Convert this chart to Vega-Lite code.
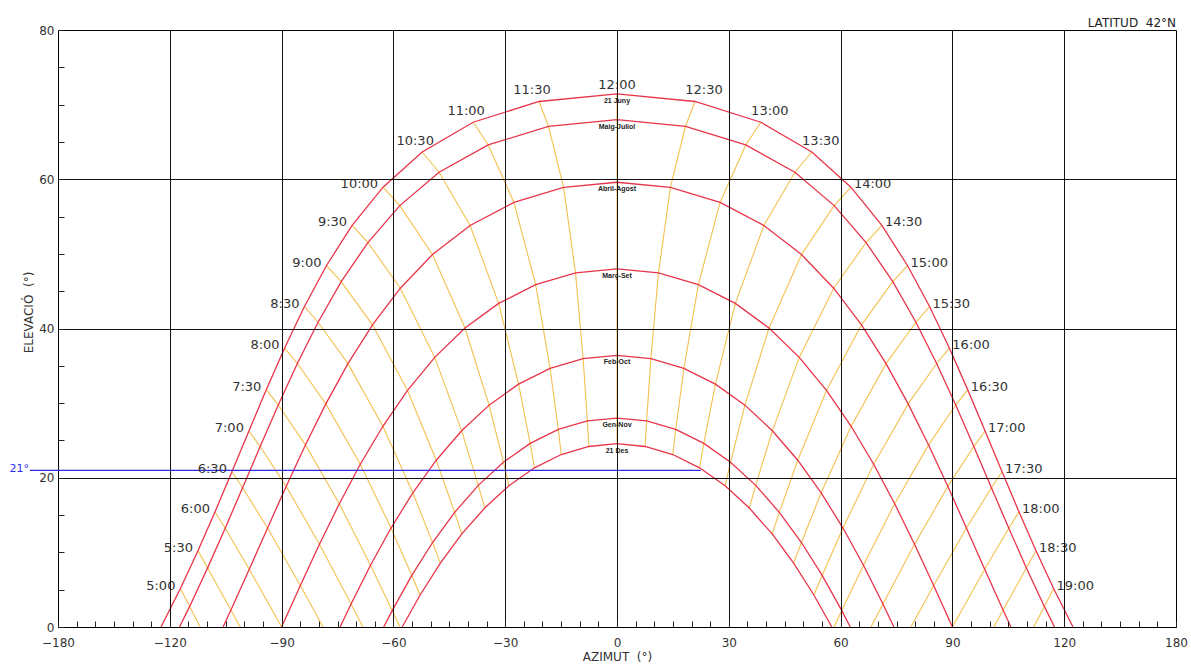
{
  "$schema": "https://vega.github.io/schema/vega-lite/v6.json",
  "width": 1118,
  "height": 597,
  "autosize": "none",
  "padding": {"left": 58, "top": 30, "right": 15, "bottom": 37},
  "background": "white",
  "config": {
    "view": {"stroke": "black", "strokeWidth": 1},
    "font": "DejaVu Sans"
  },
  "title": {"text": "LATITUD\u00a0\u00a042°N", "anchor": "end", "frame": "group", "fontSize": 12, "fontWeight": "normal", "font": "DejaVu Sans", "color": "#222", "offset": -6},
  "datasets": {
    "path": [
      {"m":"21 Juny","az":-122.36,"el":0},{"m":"21 Juny","az":-117.15,"el":5.15},{"m":"21 Juny","az":-112.44,"el":10.21},{"m":"21 Juny","az":-107.86,"el":15.44},{"m":"21 Juny","az":-103.33,"el":20.80},{"m":"21 Juny","az":-98.77,"el":26.27},{"m":"21 Juny","az":-94.09,"el":31.81},{"m":"21 Juny","az":-89.18,"el":37.38},{"m":"21 Juny","az":-83.87,"el":42.94},{"m":"21 Juny","az":-77.95,"el":48.44},{"m":"21 Juny","az":-71.08,"el":53.81},{"m":"21 Juny","az":-62.77,"el":58.94},{"m":"21 Juny","az":-52.28,"el":63.65},{"m":"21 Juny","az":-38.60,"el":67.64},{"m":"21 Juny","az":-20.93,"el":70.42},{"m":"21 Juny","az":0,"el":71.44},{"m":"21 Juny","az":20.93,"el":70.42},{"m":"21 Juny","az":38.60,"el":67.64},{"m":"21 Juny","az":52.28,"el":63.65},{"m":"21 Juny","az":62.77,"el":58.94},{"m":"21 Juny","az":71.08,"el":53.81},{"m":"21 Juny","az":77.95,"el":48.44},{"m":"21 Juny","az":83.87,"el":42.94},{"m":"21 Juny","az":89.18,"el":37.38},{"m":"21 Juny","az":94.09,"el":31.81},{"m":"21 Juny","az":98.77,"el":26.27},{"m":"21 Juny","az":103.33,"el":20.80},{"m":"21 Juny","az":107.86,"el":15.44},{"m":"21 Juny","az":112.44,"el":10.21},{"m":"21 Juny","az":117.15,"el":5.15},{"m":"21 Juny","az":122.36,"el":0},
      {"m":"Maig-Juliol","az":-117.40,"el":0},{"m":"Maig-Juliol","az":-114.67,"el":2.76},{"m":"Maig-Juliol","az":-109.85,"el":7.92},{"m":"Maig-Juliol","az":-105.14,"el":13.23},{"m":"Maig-Juliol","az":-100.47,"el":18.66},{"m":"Maig-Juliol","az":-95.75,"el":24.18},{"m":"Maig-Juliol","az":-90.89,"el":29.74},{"m":"Maig-Juliol","az":-85.77,"el":35.31},{"m":"Maig-Juliol","az":-80.21,"el":40.84},{"m":"Maig-Juliol","az":-74.01,"el":46.27},{"m":"Maig-Juliol","az":-66.84,"el":51.52},{"m":"Maig-Juliol","az":-58.28,"el":56.47},{"m":"Maig-Juliol","az":-47.74,"el":60.94},{"m":"Maig-Juliol","az":-34.55,"el":64.60},{"m":"Maig-Juliol","az":-18.38,"el":67.10},{"m":"Maig-Juliol","az":0,"el":68.0},{"m":"Maig-Juliol","az":18.38,"el":67.10},{"m":"Maig-Juliol","az":34.55,"el":64.60},{"m":"Maig-Juliol","az":47.74,"el":60.94},{"m":"Maig-Juliol","az":58.28,"el":56.47},{"m":"Maig-Juliol","az":66.84,"el":51.52},{"m":"Maig-Juliol","az":74.01,"el":46.27},{"m":"Maig-Juliol","az":80.21,"el":40.84},{"m":"Maig-Juliol","az":85.77,"el":35.31},{"m":"Maig-Juliol","az":90.89,"el":29.74},{"m":"Maig-Juliol","az":95.75,"el":24.18},{"m":"Maig-Juliol","az":100.47,"el":18.66},{"m":"Maig-Juliol","az":105.14,"el":13.23},{"m":"Maig-Juliol","az":109.85,"el":7.92},{"m":"Maig-Juliol","az":114.67,"el":2.76},{"m":"Maig-Juliol","az":117.40,"el":0},
      {"m":"Abril-Agost","az":-105.70,"el":0},{"m":"Abril-Agost","az":-103.60,"el":2.27},{"m":"Abril-Agost","az":-98.67,"el":7.73},{"m":"Abril-Agost","az":-93.76,"el":13.27},{"m":"Abril-Agost","az":-88.78,"el":18.84},{"m":"Abril-Agost","az":-83.61,"el":24.40},{"m":"Abril-Agost","az":-78.13,"el":29.90},{"m":"Abril-Agost","az":-72.20,"el":35.29},{"m":"Abril-Agost","az":-65.61,"el":40.49},{"m":"Abril-Agost","az":-58.14,"el":45.40},{"m":"Abril-Agost","az":-49.51,"el":49.91},{"m":"Abril-Agost","az":-39.41,"el":53.81},{"m":"Abril-Agost","az":-27.66,"el":56.89},{"m":"Abril-Agost","az":-14.33,"el":58.90},{"m":"Abril-Agost","az":0,"el":59.6},{"m":"Abril-Agost","az":14.33,"el":58.90},{"m":"Abril-Agost","az":27.66,"el":56.89},{"m":"Abril-Agost","az":39.41,"el":53.81},{"m":"Abril-Agost","az":49.51,"el":49.91},{"m":"Abril-Agost","az":58.14,"el":45.40},{"m":"Abril-Agost","az":65.61,"el":40.49},{"m":"Abril-Agost","az":72.20,"el":35.29},{"m":"Abril-Agost","az":78.13,"el":29.90},{"m":"Abril-Agost","az":83.61,"el":24.40},{"m":"Abril-Agost","az":88.78,"el":18.84},{"m":"Abril-Agost","az":93.76,"el":13.27},{"m":"Abril-Agost","az":98.67,"el":7.73},{"m":"Abril-Agost","az":103.60,"el":2.27},{"m":"Abril-Agost","az":105.70,"el":0},
      {"m":"Març-Set","az":-90,"el":0},{"m":"Març-Set","az":-84.97,"el":5.57},{"m":"Març-Set","az":-79.84,"el":11.09},{"m":"Març-Set","az":-74.51,"el":16.52},{"m":"Març-Set","az":-68.88,"el":21.81},{"m":"Març-Set","az":-62.83,"el":26.90},{"m":"Març-Set","az":-56.21,"el":31.70},{"m":"Març-Set","az":-48.90,"el":36.13},{"m":"Març-Set","az":-40.79,"el":40.06},{"m":"Març-Set","az":-31.76,"el":43.36},{"m":"Març-Set","az":-21.83,"el":45.87},{"m":"Març-Set","az":-11.13,"el":47.46},{"m":"Març-Set","az":0,"el":48.0},{"m":"Març-Set","az":11.13,"el":47.46},{"m":"Març-Set","az":21.83,"el":45.87},{"m":"Març-Set","az":31.76,"el":43.36},{"m":"Març-Set","az":40.79,"el":40.06},{"m":"Març-Set","az":48.90,"el":36.13},{"m":"Març-Set","az":56.21,"el":31.70},{"m":"Març-Set","az":62.83,"el":26.90},{"m":"Març-Set","az":68.88,"el":21.81},{"m":"Març-Set","az":74.51,"el":16.52},{"m":"Març-Set","az":79.84,"el":11.09},{"m":"Març-Set","az":84.97,"el":5.57},{"m":"Març-Set","az":90,"el":0},
      {"m":"Feb-Oct","az":-74.30,"el":0},{"m":"Feb-Oct","az":-71.36,"el":3.09},{"m":"Feb-Oct","az":-66.14,"el":8.28},{"m":"Feb-Oct","az":-60.64,"el":13.26},{"m":"Feb-Oct","az":-54.79,"el":17.98},{"m":"Feb-Oct","az":-48.50,"el":22.35},{"m":"Feb-Oct","az":-41.69,"el":26.29},{"m":"Feb-Oct","az":-34.33,"el":29.73},{"m":"Feb-Oct","az":-26.41,"el":32.55},{"m":"Feb-Oct","az":-17.95,"el":34.65},{"m":"Feb-Oct","az":-9.09,"el":35.96},{"m":"Feb-Oct","az":0,"el":36.4},{"m":"Feb-Oct","az":9.09,"el":35.96},{"m":"Feb-Oct","az":17.95,"el":34.65},{"m":"Feb-Oct","az":26.41,"el":32.55},{"m":"Feb-Oct","az":34.33,"el":29.73},{"m":"Feb-Oct","az":41.69,"el":26.29},{"m":"Feb-Oct","az":48.50,"el":22.35},{"m":"Feb-Oct","az":54.79,"el":17.98},{"m":"Feb-Oct","az":60.64,"el":13.26},{"m":"Feb-Oct","az":66.14,"el":8.28},{"m":"Feb-Oct","az":71.36,"el":3.09},{"m":"Feb-Oct","az":74.30,"el":0},
      {"m":"Gen-Nov","az":-62.60,"el":0},{"m":"Gen-Nov","az":-60.32,"el":2.20},{"m":"Gen-Nov","az":-55.06,"el":6.91},{"m":"Gen-Nov","az":-49.49,"el":11.32},{"m":"Gen-Nov","az":-43.56,"el":15.36},{"m":"Gen-Nov","az":-37.22,"el":18.98},{"m":"Gen-Nov","az":-30.47,"el":22.08},{"m":"Gen-Nov","az":-23.30,"el":24.60},{"m":"Gen-Nov","az":-15.76,"el":26.47},{"m":"Gen-Nov","az":-7.96,"el":27.61},{"m":"Gen-Nov","az":0,"el":28.0},{"m":"Gen-Nov","az":7.96,"el":27.61},{"m":"Gen-Nov","az":15.76,"el":26.47},{"m":"Gen-Nov","az":23.30,"el":24.60},{"m":"Gen-Nov","az":30.47,"el":22.08},{"m":"Gen-Nov","az":37.22,"el":18.98},{"m":"Gen-Nov","az":43.56,"el":15.36},{"m":"Gen-Nov","az":49.49,"el":11.32},{"m":"Gen-Nov","az":55.06,"el":6.91},{"m":"Gen-Nov","az":60.32,"el":2.20},{"m":"Gen-Nov","az":62.60,"el":0},
      {"m":"21 Des","az":-57.64,"el":0},{"m":"21 Des","az":-52.83,"el":4.29},{"m":"21 Des","az":-47.40,"el":8.56},{"m":"21 Des","az":-41.64,"el":12.47},{"m":"21 Des","az":-35.51,"el":15.95},{"m":"21 Des","az":-29.01,"el":18.93},{"m":"21 Des","az":-22.14,"el":21.33},{"m":"21 Des","az":-14.96,"el":23.11},{"m":"21 Des","az":-7.54,"el":24.19},{"m":"21 Des","az":0,"el":24.56},{"m":"21 Des","az":7.54,"el":24.19},{"m":"21 Des","az":14.96,"el":23.11},{"m":"21 Des","az":22.14,"el":21.33},{"m":"21 Des","az":29.01,"el":18.93},{"m":"21 Des","az":35.51,"el":15.95},{"m":"21 Des","az":41.64,"el":12.47},{"m":"21 Des","az":47.40,"el":8.56},{"m":"21 Des","az":52.83,"el":4.29},{"m":"21 Des","az":57.64,"el":0}
    ],
    "hora": [
      {"t":"5:00","hr":5,"dec":23.44,"az":-117.15,"el":5.15},{"t":"5:00","hr":5,"dec":20,"az":-114.67,"el":2.76},{"t":"5:00","hr":5,"dec":16.04,"az":-111.83,"el":0},
      {"t":"5:30","hr":5.5,"dec":23.44,"az":-112.44,"el":10.21},{"t":"5:30","hr":5.5,"dec":20,"az":-109.85,"el":7.92},{"t":"5:30","hr":5.5,"dec":11.6,"az":-103.60,"el":2.27},{"t":"5:30","hr":5.5,"dec":8.25,"az":-101.13,"el":0},
      {"t":"6:00","hr":6,"dec":23.44,"az":-107.86,"el":15.44},{"t":"6:00","hr":6,"dec":20,"az":-105.14,"el":13.23},{"t":"6:00","hr":6,"dec":11.6,"az":-98.67,"el":7.73},{"t":"6:00","hr":6,"dec":0,"az":-90,"el":0},
      {"t":"6:30","hr":6.5,"dec":23.44,"az":-103.33,"el":20.80},{"t":"6:30","hr":6.5,"dec":20,"az":-100.47,"el":18.66},{"t":"6:30","hr":6.5,"dec":11.6,"az":-93.76,"el":13.27},{"t":"6:30","hr":6.5,"dec":0,"az":-84.97,"el":5.57},{"t":"6:30","hr":6.5,"dec":-8.25,"az":-78.87,"el":0},
      {"t":"7:00","hr":7,"dec":23.44,"az":-98.77,"el":26.27},{"t":"7:00","hr":7,"dec":20,"az":-95.75,"el":24.18},{"t":"7:00","hr":7,"dec":11.6,"az":-88.78,"el":18.84},{"t":"7:00","hr":7,"dec":0,"az":-79.84,"el":11.09},{"t":"7:00","hr":7,"dec":-11.6,"az":-71.36,"el":3.09},{"t":"7:00","hr":7,"dec":-16.04,"az":-68.17,"el":0},
      {"t":"7:30","hr":7.5,"dec":23.44,"az":-94.09,"el":31.81},{"t":"7:30","hr":7.5,"dec":20,"az":-90.89,"el":29.74},{"t":"7:30","hr":7.5,"dec":11.6,"az":-83.61,"el":24.40},{"t":"7:30","hr":7.5,"dec":0,"az":-74.51,"el":16.52},{"t":"7:30","hr":7.5,"dec":-11.6,"az":-66.14,"el":8.28},{"t":"7:30","hr":7.5,"dec":-20,"az":-60.32,"el":2.20},{"t":"7:30","hr":7.5,"dec":-23.03,"az":-58.24,"el":0},
      {"t":"8:00","hr":8,"dec":23.44,"az":-89.18,"el":37.38},{"t":"8:00","hr":8,"dec":20,"az":-85.77,"el":35.31},{"t":"8:00","hr":8,"dec":11.6,"az":-78.13,"el":29.90},{"t":"8:00","hr":8,"dec":0,"az":-68.88,"el":21.81},{"t":"8:00","hr":8,"dec":-11.6,"az":-60.64,"el":13.26},{"t":"8:00","hr":8,"dec":-20,"az":-55.06,"el":6.91},{"t":"8:00","hr":8,"dec":-23.44,"az":-52.83,"el":4.29},
      {"t":"8:30","hr":8.5,"dec":23.44,"az":-83.87,"el":42.94},{"t":"8:30","hr":8.5,"dec":20,"az":-80.21,"el":40.84},{"t":"8:30","hr":8.5,"dec":11.6,"az":-72.20,"el":35.29},{"t":"8:30","hr":8.5,"dec":0,"az":-62.83,"el":26.90},{"t":"8:30","hr":8.5,"dec":-11.6,"az":-54.79,"el":17.98},{"t":"8:30","hr":8.5,"dec":-20,"az":-49.49,"el":11.32},{"t":"8:30","hr":8.5,"dec":-23.44,"az":-47.40,"el":8.56},
      {"t":"9:00","hr":9,"dec":23.44,"az":-77.95,"el":48.44},{"t":"9:00","hr":9,"dec":20,"az":-74.01,"el":46.27},{"t":"9:00","hr":9,"dec":11.6,"az":-65.61,"el":40.49},{"t":"9:00","hr":9,"dec":0,"az":-56.21,"el":31.70},{"t":"9:00","hr":9,"dec":-11.6,"az":-48.50,"el":22.35},{"t":"9:00","hr":9,"dec":-20,"az":-43.56,"el":15.36},{"t":"9:00","hr":9,"dec":-23.44,"az":-41.64,"el":12.47},
      {"t":"9:30","hr":9.5,"dec":23.44,"az":-71.08,"el":53.81},{"t":"9:30","hr":9.5,"dec":20,"az":-66.84,"el":51.52},{"t":"9:30","hr":9.5,"dec":11.6,"az":-58.14,"el":45.40},{"t":"9:30","hr":9.5,"dec":0,"az":-48.90,"el":36.13},{"t":"9:30","hr":9.5,"dec":-11.6,"az":-41.69,"el":26.29},{"t":"9:30","hr":9.5,"dec":-20,"az":-37.22,"el":18.98},{"t":"9:30","hr":9.5,"dec":-23.44,"az":-35.51,"el":15.95},
      {"t":"10:00","hr":10,"dec":23.44,"az":-62.77,"el":58.94},{"t":"10:00","hr":10,"dec":20,"az":-58.28,"el":56.47},{"t":"10:00","hr":10,"dec":11.6,"az":-49.51,"el":49.91},{"t":"10:00","hr":10,"dec":0,"az":-40.79,"el":40.06},{"t":"10:00","hr":10,"dec":-11.6,"az":-34.33,"el":29.73},{"t":"10:00","hr":10,"dec":-20,"az":-30.47,"el":22.08},{"t":"10:00","hr":10,"dec":-23.44,"az":-29.01,"el":18.93},
      {"t":"10:30","hr":10.5,"dec":23.44,"az":-52.28,"el":63.65},{"t":"10:30","hr":10.5,"dec":20,"az":-47.74,"el":60.94},{"t":"10:30","hr":10.5,"dec":11.6,"az":-39.41,"el":53.81},{"t":"10:30","hr":10.5,"dec":0,"az":-31.76,"el":43.36},{"t":"10:30","hr":10.5,"dec":-11.6,"az":-26.41,"el":32.55},{"t":"10:30","hr":10.5,"dec":-20,"az":-23.30,"el":24.60},{"t":"10:30","hr":10.5,"dec":-23.44,"az":-22.14,"el":21.33},
      {"t":"11:00","hr":11,"dec":23.44,"az":-38.60,"el":67.64},{"t":"11:00","hr":11,"dec":20,"az":-34.55,"el":64.60},{"t":"11:00","hr":11,"dec":11.6,"az":-27.66,"el":56.89},{"t":"11:00","hr":11,"dec":0,"az":-21.83,"el":45.87},{"t":"11:00","hr":11,"dec":-11.6,"az":-17.95,"el":34.65},{"t":"11:00","hr":11,"dec":-20,"az":-15.76,"el":26.47},{"t":"11:00","hr":11,"dec":-23.44,"az":-14.96,"el":23.11},
      {"t":"11:30","hr":11.5,"dec":23.44,"az":-20.93,"el":70.42},{"t":"11:30","hr":11.5,"dec":20,"az":-18.38,"el":67.10},{"t":"11:30","hr":11.5,"dec":11.6,"az":-14.33,"el":58.90},{"t":"11:30","hr":11.5,"dec":0,"az":-11.13,"el":47.46},{"t":"11:30","hr":11.5,"dec":-11.6,"az":-9.09,"el":35.96},{"t":"11:30","hr":11.5,"dec":-20,"az":-7.96,"el":27.61},{"t":"11:30","hr":11.5,"dec":-23.44,"az":-7.54,"el":24.19},
      {"t":"12:00","hr":12,"dec":23.44,"az":0,"el":71.44},{"t":"12:00","hr":12,"dec":20,"az":0,"el":68.0},{"t":"12:00","hr":12,"dec":11.6,"az":0,"el":59.6},{"t":"12:00","hr":12,"dec":0,"az":0,"el":48.0},{"t":"12:00","hr":12,"dec":-11.6,"az":0,"el":36.4},{"t":"12:00","hr":12,"dec":-20,"az":0,"el":28.0},{"t":"12:00","hr":12,"dec":-23.44,"az":0,"el":24.56},
      {"t":"12:30","hr":12.5,"dec":23.44,"az":20.93,"el":70.42},{"t":"12:30","hr":12.5,"dec":20,"az":18.38,"el":67.10},{"t":"12:30","hr":12.5,"dec":11.6,"az":14.33,"el":58.90},{"t":"12:30","hr":12.5,"dec":0,"az":11.13,"el":47.46},{"t":"12:30","hr":12.5,"dec":-11.6,"az":9.09,"el":35.96},{"t":"12:30","hr":12.5,"dec":-20,"az":7.96,"el":27.61},{"t":"12:30","hr":12.5,"dec":-23.44,"az":7.54,"el":24.19},
      {"t":"13:00","hr":13,"dec":23.44,"az":38.60,"el":67.64},{"t":"13:00","hr":13,"dec":20,"az":34.55,"el":64.60},{"t":"13:00","hr":13,"dec":11.6,"az":27.66,"el":56.89},{"t":"13:00","hr":13,"dec":0,"az":21.83,"el":45.87},{"t":"13:00","hr":13,"dec":-11.6,"az":17.95,"el":34.65},{"t":"13:00","hr":13,"dec":-20,"az":15.76,"el":26.47},{"t":"13:00","hr":13,"dec":-23.44,"az":14.96,"el":23.11},
      {"t":"13:30","hr":13.5,"dec":23.44,"az":52.28,"el":63.65},{"t":"13:30","hr":13.5,"dec":20,"az":47.74,"el":60.94},{"t":"13:30","hr":13.5,"dec":11.6,"az":39.41,"el":53.81},{"t":"13:30","hr":13.5,"dec":0,"az":31.76,"el":43.36},{"t":"13:30","hr":13.5,"dec":-11.6,"az":26.41,"el":32.55},{"t":"13:30","hr":13.5,"dec":-20,"az":23.30,"el":24.60},{"t":"13:30","hr":13.5,"dec":-23.44,"az":22.14,"el":21.33},
      {"t":"14:00","hr":14,"dec":23.44,"az":62.77,"el":58.94},{"t":"14:00","hr":14,"dec":20,"az":58.28,"el":56.47},{"t":"14:00","hr":14,"dec":11.6,"az":49.51,"el":49.91},{"t":"14:00","hr":14,"dec":0,"az":40.79,"el":40.06},{"t":"14:00","hr":14,"dec":-11.6,"az":34.33,"el":29.73},{"t":"14:00","hr":14,"dec":-20,"az":30.47,"el":22.08},{"t":"14:00","hr":14,"dec":-23.44,"az":29.01,"el":18.93},
      {"t":"14:30","hr":14.5,"dec":23.44,"az":71.08,"el":53.81},{"t":"14:30","hr":14.5,"dec":20,"az":66.84,"el":51.52},{"t":"14:30","hr":14.5,"dec":11.6,"az":58.14,"el":45.40},{"t":"14:30","hr":14.5,"dec":0,"az":48.90,"el":36.13},{"t":"14:30","hr":14.5,"dec":-11.6,"az":41.69,"el":26.29},{"t":"14:30","hr":14.5,"dec":-20,"az":37.22,"el":18.98},{"t":"14:30","hr":14.5,"dec":-23.44,"az":35.51,"el":15.95},
      {"t":"15:00","hr":15,"dec":23.44,"az":77.95,"el":48.44},{"t":"15:00","hr":15,"dec":20,"az":74.01,"el":46.27},{"t":"15:00","hr":15,"dec":11.6,"az":65.61,"el":40.49},{"t":"15:00","hr":15,"dec":0,"az":56.21,"el":31.70},{"t":"15:00","hr":15,"dec":-11.6,"az":48.50,"el":22.35},{"t":"15:00","hr":15,"dec":-20,"az":43.56,"el":15.36},{"t":"15:00","hr":15,"dec":-23.44,"az":41.64,"el":12.47},
      {"t":"15:30","hr":15.5,"dec":23.44,"az":83.87,"el":42.94},{"t":"15:30","hr":15.5,"dec":20,"az":80.21,"el":40.84},{"t":"15:30","hr":15.5,"dec":11.6,"az":72.20,"el":35.29},{"t":"15:30","hr":15.5,"dec":0,"az":62.83,"el":26.90},{"t":"15:30","hr":15.5,"dec":-11.6,"az":54.79,"el":17.98},{"t":"15:30","hr":15.5,"dec":-20,"az":49.49,"el":11.32},{"t":"15:30","hr":15.5,"dec":-23.44,"az":47.40,"el":8.56},
      {"t":"16:00","hr":16,"dec":23.44,"az":89.18,"el":37.38},{"t":"16:00","hr":16,"dec":20,"az":85.77,"el":35.31},{"t":"16:00","hr":16,"dec":11.6,"az":78.13,"el":29.90},{"t":"16:00","hr":16,"dec":0,"az":68.88,"el":21.81},{"t":"16:00","hr":16,"dec":-11.6,"az":60.64,"el":13.26},{"t":"16:00","hr":16,"dec":-20,"az":55.06,"el":6.91},{"t":"16:00","hr":16,"dec":-23.44,"az":52.83,"el":4.29},
      {"t":"16:30","hr":16.5,"dec":23.44,"az":94.09,"el":31.81},{"t":"16:30","hr":16.5,"dec":20,"az":90.89,"el":29.74},{"t":"16:30","hr":16.5,"dec":11.6,"az":83.61,"el":24.40},{"t":"16:30","hr":16.5,"dec":0,"az":74.51,"el":16.52},{"t":"16:30","hr":16.5,"dec":-11.6,"az":66.14,"el":8.28},{"t":"16:30","hr":16.5,"dec":-20,"az":60.32,"el":2.20},{"t":"16:30","hr":16.5,"dec":-23.03,"az":58.24,"el":0},
      {"t":"17:00","hr":17,"dec":23.44,"az":98.77,"el":26.27},{"t":"17:00","hr":17,"dec":20,"az":95.75,"el":24.18},{"t":"17:00","hr":17,"dec":11.6,"az":88.78,"el":18.84},{"t":"17:00","hr":17,"dec":0,"az":79.84,"el":11.09},{"t":"17:00","hr":17,"dec":-11.6,"az":71.36,"el":3.09},{"t":"17:00","hr":17,"dec":-16.04,"az":68.17,"el":0},
      {"t":"17:30","hr":17.5,"dec":23.44,"az":103.33,"el":20.80},{"t":"17:30","hr":17.5,"dec":20,"az":100.47,"el":18.66},{"t":"17:30","hr":17.5,"dec":11.6,"az":93.76,"el":13.27},{"t":"17:30","hr":17.5,"dec":0,"az":84.97,"el":5.57},{"t":"17:30","hr":17.5,"dec":-8.25,"az":78.87,"el":0},
      {"t":"18:00","hr":18,"dec":23.44,"az":107.86,"el":15.44},{"t":"18:00","hr":18,"dec":20,"az":105.14,"el":13.23},{"t":"18:00","hr":18,"dec":11.6,"az":98.67,"el":7.73},{"t":"18:00","hr":18,"dec":0,"az":90,"el":0},
      {"t":"18:30","hr":18.5,"dec":23.44,"az":112.44,"el":10.21},{"t":"18:30","hr":18.5,"dec":20,"az":109.85,"el":7.92},{"t":"18:30","hr":18.5,"dec":11.6,"az":103.60,"el":2.27},{"t":"18:30","hr":18.5,"dec":8.25,"az":101.13,"el":0},
      {"t":"19:00","hr":19,"dec":23.44,"az":117.15,"el":5.15},{"t":"19:00","hr":19,"dec":20,"az":114.67,"el":2.76},{"t":"19:00","hr":19,"dec":16.04,"az":111.83,"el":0}
    ],
    "ref": [{"az1": -157.5, "az2": 22.5, "el": 21, "lab": "21°"}]
  },
  "layer": [
    {
      "data": {"name": "hora"},
      "mark": {"type": "line", "color": "#f4c150", "strokeWidth": 1.1},
      "encoding": {
        "x": {
          "field": "az", "type": "quantitative",
          "scale": {"domain": [-150, 150], "nice": false, "zero": false},
          "axis": {
            "values": [-150,-145,-140,-135,-130,-125,-120,-115,-110,-105,-100,-95,-90,-85,-80,-75,-70,-65,-60,-55,-50,-45,-40,-35,-30,-25,-20,-15,-10,-5,0,5,10,15,20,25,30,35,40,45,50,55,60,65,70,75,80,85,90,95,100,105,110,115,120,125,130,135,140,145,150],
            "tickCount": 200,
            "format": "d",
            "labelExpr": "datum.value == -150 ? '−180' : (datum.value == 150 ? '180' : (datum.value % 30 == 0 ? datum.label : ''))",
            "labelOverlap": false, "labelFlush": false,
            "grid": true, "gridColor": "#111", "gridWidth": 1,
            "gridOpacity": {"condition": {"test": "abs(datum.value) < 150 && datum.value % 30 == 0", "value": 1}, "value": 0},
            "domain": false,
            "ticks": true, "tickSize": -6, "tickColor": "#222", "tickWidth": 1,
            "labelPadding": 16, "labelFont": "DejaVu Sans", "labelFontSize": 12, "labelColor": "#333",
            "title": "AZIMUT\u00a0\u00a0(°)", "titleFont": "DejaVu Sans", "titleFontSize": 12, "titleFontWeight": "normal", "titleColor": "#333", "titlePadding": 3,
            "zindex": 1
          }
        },
        "y": {
          "field": "el", "type": "quantitative",
          "scale": {"domain": [0, 80], "nice": false, "zero": false},
          "axis": {
            "values": [0,5,10,15,20,25,30,35,40,45,50,55,60,65,70,75,80],
            "tickCount": 200,
            "format": "d",
            "labelExpr": "datum.value % 20 == 0 ? datum.label : ''",
            "labelOverlap": false, "labelFlush": false,
            "grid": true, "gridColor": "#111", "gridWidth": 1,
            "gridOpacity": {"condition": {"test": "datum.value > 0 && datum.value < 80 && datum.value % 20 == 0", "value": 1}, "value": 0},
            "domain": false,
            "ticks": true, "tickSize": -6, "tickColor": "#222", "tickWidth": 1,
            "labelPadding": 10, "labelFont": "DejaVu Sans", "labelFontSize": 12, "labelColor": "#333",
            "title": "ELEVACIÓ\u00a0\u00a0(°)", "titleFont": "DejaVu Sans", "titleFontSize": 12, "titleFontWeight": "normal", "titleColor": "#333",
            "titleX": -23, "titleY": 282,
            "zindex": 1
          }
        },
        "detail": {"field": "t"},
        "order": {"field": "dec", "sort": "descending"}
      }
    },
    {
      "data": {"name": "path"},
      "mark": {"type": "line", "color": "#e8344a", "strokeWidth": 1.3},
      "encoding": {
        "x": {"field": "az", "type": "quantitative"},
        "y": {"field": "el", "type": "quantitative"},
        "detail": {"field": "m"},
        "order": {"field": "az"}
      }
    },
    {
      "data": {"name": "path"},
      "transform": [{"filter": "datum.az == 0"}],
      "mark": {"type": "text", "font": "Liberation Sans", "fontSize": 7, "fontWeight": "bold", "color": "#222", "baseline": "top", "dy": 3},
      "encoding": {
        "x": {"field": "az", "type": "quantitative"},
        "y": {"field": "el", "type": "quantitative"},
        "text": {"field": "m"}
      }
    },
    {
      "data": {"name": "ref"},
      "mark": {"type": "rule", "color": "#2b2bf0", "strokeWidth": 1.2},
      "encoding": {
        "x": {"field": "az1", "type": "quantitative"},
        "x2": {"field": "az2"},
        "y": {"field": "el", "type": "quantitative"}
      }
    },
    {
      "data": {"name": "ref"},
      "mark": {"type": "text", "align": "right", "baseline": "middle", "dx": -1, "dy": -1, "fontSize": 11, "font": "DejaVu Sans", "color": "#2b2bf0"},
      "encoding": {
        "x": {"field": "az1", "type": "quantitative"},
        "y": {"field": "el", "type": "quantitative"},
        "text": {"field": "lab"}
      }
    },
    {
      "data": {"name": "hora"},
      "transform": [{"filter": "datum.dec == 23.44 && datum.hr <= 10"}],
      "mark": {"type": "text", "align": "right", "baseline": "middle", "dx": -5, "dy": -3, "fontSize": 13, "font": "DejaVu Sans", "color": "#333"},
      "encoding": {
        "x": {"field": "az", "type": "quantitative"},
        "y": {"field": "el", "type": "quantitative"},
        "text": {"field": "t"}
      }
    },
    {
      "data": {"name": "hora"},
      "transform": [{"filter": "datum.dec == 23.44 && datum.hr > 10 && datum.hr < 12"}],
      "mark": {"type": "text", "align": "center", "baseline": "bottom", "dx": -7, "dy": -4, "fontSize": 13, "font": "DejaVu Sans", "color": "#333"},
      "encoding": {
        "x": {"field": "az", "type": "quantitative"},
        "y": {"field": "el", "type": "quantitative"},
        "text": {"field": "t"}
      }
    },
    {
      "data": {"name": "hora"},
      "transform": [{"filter": "datum.dec == 23.44 && datum.hr == 12"}],
      "mark": {"type": "text", "align": "center", "baseline": "bottom", "dy": -2, "fontSize": 13, "font": "DejaVu Sans", "color": "#333"},
      "encoding": {
        "x": {"field": "az", "type": "quantitative"},
        "y": {"field": "el", "type": "quantitative"},
        "text": {"field": "t"}
      }
    },
    {
      "data": {"name": "hora"},
      "transform": [{"filter": "datum.dec == 23.44 && datum.hr > 12 && datum.hr < 14"}],
      "mark": {"type": "text", "align": "center", "baseline": "bottom", "dx": 9, "dy": -4, "fontSize": 13, "font": "DejaVu Sans", "color": "#333"},
      "encoding": {
        "x": {"field": "az", "type": "quantitative"},
        "y": {"field": "el", "type": "quantitative"},
        "text": {"field": "t"}
      }
    },
    {
      "data": {"name": "hora"},
      "transform": [{"filter": "datum.dec == 23.44 && datum.hr >= 14"}],
      "mark": {"type": "text", "align": "left", "baseline": "middle", "dx": 3, "dy": -3, "fontSize": 13, "font": "DejaVu Sans", "color": "#333"},
      "encoding": {
        "x": {"field": "az", "type": "quantitative"},
        "y": {"field": "el", "type": "quantitative"},
        "text": {"field": "t"}
      }
    }
  ]
}
